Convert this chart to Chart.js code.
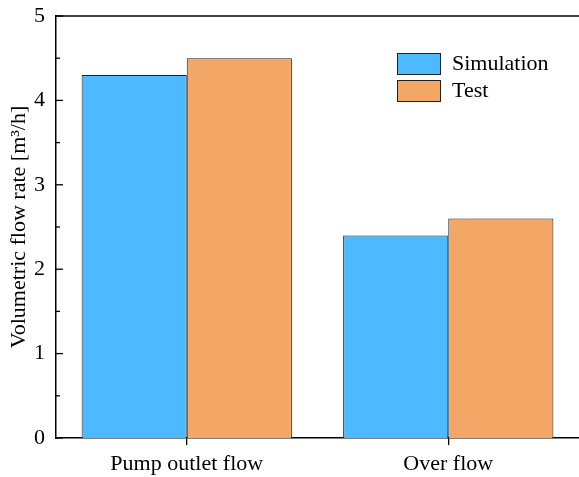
<!DOCTYPE html>
<html>
<head>
<meta charset="utf-8">
<script src="https://cdn.jsdelivr.net/npm/chart.js@4/dist/chart.umd.min.js"></script>
<style>
html,body{margin:0;padding:0;background:#fff;overflow:hidden;}
#wrap{width:579px;height:477px;position:relative;}
</style>
</head>
<body>
<div id="wrap"><canvas id="c" width="579" height="477"></canvas></div>
<script>
const categories = ['Pump outlet flow', 'Over flow'];
const simulation = [4.3, 2.4];
const test = [4.5, 2.6];
const seriesNames = ['Simulation', 'Test'];
const yTicks = [0, 1, 2, 3, 4, 5];
const yTitle = 'Volumetric flow rate [m\u00B3/h]';

const FONT = "'Liberation Serif', 'Times New Roman', serif";
const BLUE = '#4DB9FF';
const ORANGE = '#F3A766';

const frame = {
  id: 'frame',
  afterDraw(chart) {
    const {ctx, chartArea: a, scales: {y}} = chart;
    const x0 = a.left;
    ctx.save();
    ctx.strokeStyle = '#000';
    ctx.lineWidth = 1.5;
    ctx.beginPath();
    ctx.moveTo(x0, a.top);
    ctx.lineTo(a.right, a.top);
    ctx.stroke();
    ctx.lineWidth = 1.3;
    for (let i = 0; i < yTicks.length; i++) {
      const v = yTicks[i];
      const py = y.getPixelForValue(v);
      ctx.beginPath(); ctx.moveTo(x0, py); ctx.lineTo(x0 + 7, py); ctx.stroke();
      if (i < yTicks.length - 1) {
        const pm = y.getPixelForValue((v + yTicks[i + 1]) / 2);
        ctx.beginPath(); ctx.moveTo(x0, pm); ctx.lineTo(x0 + 4, pm); ctx.stroke();
      }
    }
    const boxX = 397, boxW = 43, boxH = 21;
    const rows = [53, 80];
    ctx.font = '22px ' + FONT;
    ctx.textBaseline = 'middle';
    ctx.textAlign = 'left';
    chart.data.datasets.forEach((ds, i) => {
      const by = rows[i];
      ctx.fillStyle = ds.backgroundColor;
      ctx.fillRect(boxX, by, boxW, boxH);
      ctx.lineWidth = 1;
      ctx.strokeStyle = '#222';
      ctx.strokeRect(boxX + 0.5, by + 0.5, boxW, boxH);
      ctx.fillStyle = '#000';
      ctx.fillText(ds.label, 452, by + boxH / 2 + 1);
    });
    ctx.restore();
  }
};

new Chart(document.getElementById('c'), {
  type: 'bar',
  data: {
    labels: categories,
    datasets: [
      {label: seriesNames[0], data: simulation, backgroundColor: BLUE, borderColor: '#222', borderWidth: 1},
      {label: seriesNames[1], data: test, backgroundColor: ORANGE, borderColor: '#222', borderWidth: 1}
    ]
  },
  options: {
    responsive: false,
    animation: false,
    devicePixelRatio: 1,
    layout: {padding: {top: 16, left: 0, right: 0, bottom: 0}},
    plugins: {legend: {display: false}, tooltip: {enabled: false}},
    datasets: {bar: {categoryPercentage: 0.804, barPercentage: 1}},
    scales: {
      x: {
        afterFit(s) { s.height = 39; s.paddingLeft = 0; s.paddingRight = 0; },
        grid: {display: true, drawOnChartArea: false, drawTicks: true, tickLength: 7, offset: false, color: '#000', lineWidth: 1.3},
        border: {display: true, color: '#000', width: 1.5},
        ticks: {color: '#000', font: {family: FONT, size: 22}, padding: 6, maxRotation: 0}
      },
      y: {
        min: 0, max: 5,
        afterFit(s) { s.width = 56; s.paddingTop = 0; s.paddingBottom = 0; },
        afterBuildTicks(s) { s.ticks = yTicks.map(v => ({value: v})); },
        grid: {display: false, drawTicks: false},
        border: {display: true, color: '#000', width: 1.5},
        ticks: {color: '#000', font: {family: FONT, size: 22}, padding: 11},
        title: {display: true, text: yTitle, color: '#000', font: {family: FONT, size: 22}, padding: {top: 6, bottom: 0}}
      }
    }
  },
  plugins: [frame]
});
</script>
</body>
</html>
